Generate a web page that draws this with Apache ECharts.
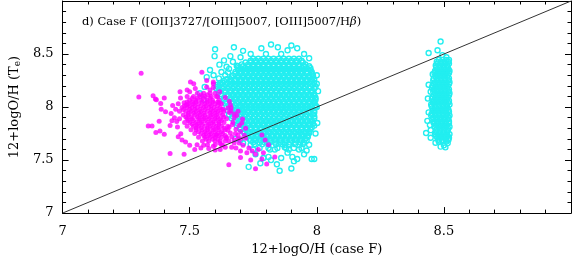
<!DOCTYPE html>
<html><head><meta charset="utf-8">
<script src="https://cdn.jsdelivr.net/npm/echarts@6/dist/echarts.min.js"></script>
<style>html,body{margin:0;padding:0;background:#fff}#c{width:574px;height:261px}</style>
</head><body><div id="c"></div>
<script>
const xTickLabels = ['7','7.5','8','8.5'];
const yTickLabels = ['7','7.5','8','8.5'];
const oneToOne = [[7,7],[9,9]];

// magenta (filled) — outer points
const magentaOuter = [
[7.309,8.318],[7.30,8.094],[7.356,8.106],[7.365,8.076],[7.386,8.034],[7.40,8.085],[7.388,7.979],[7.405,7.955],
[7.427,7.94],[7.38,7.866],[7.337,7.821],[7.352,7.822],[7.367,7.76],[7.383,7.773],[7.40,7.743],[7.423,7.827],
[7.449,7.864],[7.452,7.812],[7.465,7.748],[7.484,7.67],[7.423,7.561],[7.478,7.555],[7.529,7.645],[7.544,7.615],
[7.503,8.236],[7.548,8.327],[7.462,8.145],[7.49,8.16],[7.522,8.176],[7.567,8.19],[7.593,8.22],[7.433,8.015],
[7.478,8.04],[7.464,8.085],[7.50,8.145],[7.516,8.22],[7.567,8.25],[7.593,8.185],[7.487,8.02],[7.369,8.07],
[7.654,7.457],[7.759,7.418],[7.803,7.464],[7.835,7.53],[7.784,7.51],[7.759,7.555],[7.746,7.585],[7.733,7.615],
[7.70,7.585],[7.70,7.525],[7.682,7.615],[7.72,7.706],[7.797,7.69],[7.81,7.645],[7.784,7.736],[7.708,7.888],
[7.695,7.827],[7.65,7.782],[7.644,7.706],[7.618,7.66],[7.593,7.63],[7.605,7.736],[7.656,7.948],[7.663,7.994],
[7.631,7.979],[7.593,8.236],[7.58,8.16],[7.618,8.145],[7.605,8.10],[7.656,8.055],[7.617,8.04],[7.65,7.99],
[7.675,7.66],[7.69,7.70],[7.665,7.72],[7.71,7.64],[7.725,7.57],[7.74,7.50],[7.77,7.60],[7.79,7.57],
[7.68,7.75],[7.70,7.77],[7.72,7.80],[7.67,7.86],[7.685,7.92],[7.66,8.02],[7.64,8.09],
[7.44,7.90],[7.445,7.98],[7.43,7.87],[7.455,7.72],[7.47,7.69],[7.50,7.64],[7.52,7.60],
[7.662,7.965],[7.675,7.90],[7.668,7.835],[7.682,7.79],[7.66,7.755],[7.676,7.69],[7.69,7.735],[7.655,7.68],
[7.695,7.66],[7.665,7.62],[7.64,7.62],[7.62,7.60],[7.705,7.85],[7.69,7.96],[7.70,7.70],[7.655,7.81],
[7.575,7.61],[7.60,7.595],[7.555,7.64],[7.675,7.935],[7.63,7.64],[7.715,7.735]
];
// magenta dense core, rows: [y, x, x, ...]
const magentaRows = [
[8.13,7.53,7.555,7.58,7.60],
[8.115,7.545,7.57],
[8.10,7.49,7.515,7.54,7.56,7.585,7.61],
[8.082,7.51,7.53,7.555,7.58],
[8.065,7.50,7.525,7.545,7.57,7.59,7.615],
[8.047,7.49,7.51,7.525,7.55,7.57,7.59,7.61],
[8.03,7.455,7.495,7.515,7.535,7.56,7.58,7.60,7.625],
[8.012,7.48,7.50,7.52,7.545,7.565,7.585,7.61],
[7.995,7.47,7.49,7.51,7.53,7.555,7.575,7.595,7.62],
[7.977,7.475,7.50,7.52,7.54,7.56,7.585,7.605,7.625],
[7.96,7.46,7.485,7.505,7.525,7.545,7.57,7.59,7.61,7.635],
[7.942,7.495,7.515,7.535,7.555,7.58,7.60,7.62],
[7.925,7.475,7.495,7.52,7.54,7.56,7.585,7.605,7.63],
[7.907,7.485,7.505,7.53,7.55,7.57,7.59,7.61,7.635],
[7.89,7.46,7.49,7.51,7.535,7.555,7.575,7.60,7.62,7.645],
[7.872,7.495,7.515,7.54,7.56,7.585,7.605,7.625],
[7.855,7.48,7.50,7.525,7.545,7.57,7.59,7.615,7.635],
[7.837,7.51,7.53,7.55,7.575,7.595,7.615],
[7.82,7.49,7.515,7.535,7.56,7.58,7.605,7.625,7.65],
[7.802,7.525,7.545,7.57,7.59,7.61,7.635],
[7.785,7.505,7.525,7.55,7.57,7.595,7.615,7.64],
[7.767,7.535,7.56,7.58,7.60,7.625],
[7.75,7.52,7.545,7.565,7.585,7.61,7.63],
[7.732,7.555,7.575,7.595,7.615,7.64],
[7.715,7.535,7.56,7.58,7.60,7.625,7.645],
[7.697,7.565,7.59,7.61],
[7.68,7.55,7.575,7.60,7.62,7.64],
[7.645,7.57,7.60,7.625]
];
// cyan (open) main cluster core rows: [y, x, x, ...]
const cyanRows = [
[8.455,7.75,7.77,7.79,7.81,7.83,7.85,7.87,7.89,7.91,7.93],
[8.437,7.74,7.76,7.78,7.80,7.82,7.84,7.86,7.88,7.90,7.92,7.94],
[8.42,7.72,7.74,7.76,7.78,7.80,7.82,7.84,7.86,7.88,7.90,7.92,7.945],
[8.402,7.705,7.73,7.75,7.77,7.79,7.81,7.83,7.85,7.87,7.89,7.91,7.93,7.955],
[8.385,7.69,7.71,7.73,7.75,7.77,7.79,7.81,7.83,7.85,7.87,7.89,7.91,7.93,7.95,7.97],
[8.367,7.69,7.70,7.72,7.74,7.76,7.78,7.80,7.82,7.84,7.86,7.88,7.90,7.92,7.94,7.96,7.975],
[8.35,7.69,7.71,7.73,7.75,7.77,7.79,7.81,7.83,7.85,7.87,7.89,7.91,7.93,7.95,7.975],
[8.332,7.68,7.70,7.72,7.74,7.76,7.78,7.80,7.82,7.84,7.86,7.88,7.90,7.92,7.94,7.96,7.98],
[8.315,7.68,7.70,7.72,7.74,7.76,7.78,7.80,7.82,7.84,7.86,7.88,7.90,7.92,7.94,7.96,7.98],
[8.297,7.67,7.69,7.71,7.73,7.75,7.77,7.79,7.81,7.83,7.85,7.87,7.89,7.91,7.93,7.95,7.97,7.985],
[8.28,7.665,7.69,7.71,7.73,7.75,7.77,7.79,7.81,7.83,7.85,7.87,7.89,7.91,7.93,7.95,7.97,7.985],
[8.262,7.645,7.66,7.68,7.70,7.72,7.74,7.76,7.78,7.80,7.82,7.84,7.86,7.88,7.90,7.92,7.94,7.96,7.98,7.99],
[8.245,7.635,7.66,7.68,7.70,7.72,7.74,7.76,7.78,7.80,7.82,7.84,7.86,7.88,7.90,7.92,7.94,7.96,7.98],
[8.227,7.62,7.63,7.65,7.67,7.69,7.71,7.73,7.75,7.77,7.79,7.81,7.83,7.85,7.87,7.89,7.91,7.93,7.95,7.97,7.99],
[8.21,7.61,7.62,7.64,7.66,7.68,7.70,7.72,7.74,7.76,7.78,7.80,7.82,7.84,7.86,7.88,7.90,7.92,7.94,7.96,7.985],
[8.192,7.61,7.635,7.655,7.675,7.695,7.715,7.735,7.755,7.775,7.795,7.815,7.835,7.855,7.875,7.895,7.915,7.935,7.955,7.975,7.995],
[8.175,7.605,7.63,7.65,7.67,7.69,7.71,7.73,7.75,7.77,7.79,7.81,7.83,7.85,7.87,7.89,7.91,7.93,7.95,7.97,7.99],
[8.157,7.615,7.64,7.66,7.68,7.70,7.72,7.74,7.76,7.78,7.80,7.82,7.84,7.86,7.88,7.90,7.92,7.94,7.96,7.98],
[8.14,7.615,7.64,7.66,7.68,7.70,7.72,7.74,7.76,7.78,7.80,7.82,7.84,7.86,7.88,7.90,7.92,7.94,7.96,7.98],
[8.122,7.625,7.65,7.67,7.69,7.71,7.73,7.75,7.77,7.79,7.81,7.83,7.85,7.87,7.89,7.91,7.93,7.95,7.97,7.99],
[8.105,7.625,7.65,7.67,7.69,7.71,7.73,7.75,7.77,7.79,7.81,7.83,7.85,7.87,7.89,7.91,7.93,7.95,7.97,7.99],
[8.087,7.635,7.66,7.68,7.70,7.72,7.74,7.76,7.78,7.80,7.82,7.84,7.86,7.88,7.90,7.92,7.94,7.96,7.98,7.995],
[8.07,7.635,7.66,7.68,7.70,7.72,7.74,7.76,7.78,7.80,7.82,7.84,7.86,7.88,7.90,7.92,7.94,7.96,7.98,7.995],
[8.052,7.645,7.67,7.69,7.71,7.73,7.75,7.77,7.79,7.81,7.83,7.85,7.87,7.89,7.91,7.93,7.95,7.97,7.99],
[8.035,7.64,7.665,7.685,7.71,7.73,7.75,7.77,7.79,7.81,7.83,7.85,7.87,7.89,7.91,7.93,7.95,7.97,7.99],
[8.017,7.655,7.68,7.70,7.72,7.74,7.76,7.78,7.80,7.82,7.84,7.86,7.88,7.90,7.92,7.94,7.96,7.98,7.995],
[8.00,7.645,7.67,7.69,7.70,7.72,7.74,7.76,7.78,7.80,7.82,7.84,7.86,7.88,7.90,7.92,7.94,7.96,7.98,7.995],
[7.982,7.66,7.685,7.705,7.72,7.74,7.76,7.78,7.80,7.82,7.84,7.86,7.88,7.90,7.92,7.94,7.96,7.98],
[7.965,7.65,7.675,7.695,7.71,7.73,7.75,7.77,7.79,7.81,7.83,7.85,7.87,7.89,7.91,7.93,7.95,7.97,7.99],
[7.947,7.665,7.69,7.71,7.73,7.75,7.77,7.79,7.81,7.83,7.85,7.87,7.89,7.91,7.93,7.95,7.97,7.99],
[7.93,7.655,7.68,7.70,7.72,7.74,7.76,7.78,7.80,7.82,7.84,7.86,7.88,7.90,7.92,7.94,7.96,7.985],
[7.912,7.67,7.695,7.715,7.735,7.755,7.775,7.795,7.815,7.835,7.855,7.875,7.895,7.915,7.935,7.955,7.975,7.99],
[7.895,7.665,7.69,7.71,7.73,7.75,7.77,7.79,7.81,7.83,7.85,7.87,7.89,7.91,7.93,7.95,7.97,7.99],
[7.877,7.68,7.70,7.72,7.74,7.76,7.78,7.80,7.82,7.84,7.86,7.88,7.90,7.92,7.94,7.96,7.98],
[7.86,7.675,7.70,7.72,7.74,7.76,7.78,7.80,7.82,7.84,7.86,7.88,7.90,7.92,7.94,7.96,7.98],
[7.842,7.69,7.71,7.73,7.75,7.77,7.79,7.81,7.83,7.85,7.87,7.89,7.91,7.93,7.95,7.97,7.985],
[7.825,7.685,7.71,7.73,7.75,7.77,7.79,7.81,7.83,7.85,7.87,7.89,7.91,7.93,7.95,7.97,7.99],
[7.807,7.70,7.72,7.74,7.76,7.78,7.80,7.82,7.84,7.86,7.88,7.90,7.92,7.94,7.96,7.98],
[7.79,7.70,7.72,7.74,7.76,7.78,7.80,7.82,7.84,7.86,7.88,7.90,7.92,7.94,7.96,7.975],
[7.772,7.71,7.73,7.75,7.77,7.79,7.81,7.83,7.85,7.87,7.89,7.91,7.93,7.95,7.97],
[7.755,7.715,7.735,7.755,7.775,7.795,7.815,7.835,7.855,7.875,7.895,7.915,7.935,7.955,7.97],
[7.737,7.725,7.745,7.765,7.785,7.805,7.825,7.845,7.865,7.885,7.905,7.925,7.945,7.965],
[7.72,7.725,7.745,7.765,7.785,7.805,7.825,7.845,7.865,7.885,7.905,7.925,7.945,7.965],
[7.702,7.735,7.755,7.775,7.795,7.815,7.835,7.855,7.875,7.895,7.915,7.935,7.955],
[7.685,7.74,7.76,7.78,7.80,7.82,7.84,7.86,7.88,7.90,7.92,7.94,7.96],
[7.667,7.75,7.775,7.795,7.815,7.835,7.855,7.875,7.895,7.915,7.935,7.95],
[7.65,7.755,7.785,7.81,7.84,7.865,7.89,7.915,7.945],
[7.615,7.775,7.81,7.845,7.88,7.91,7.94]
];
// cyan main cluster sparse outer points
const cyanOuter = [
[7.60,8.545],[7.674,8.564],[7.71,8.53],[7.74,8.50],[7.782,8.555],[7.82,8.59],[7.847,8.564],[7.885,8.536],
[7.923,8.555],[7.90,8.58],[7.95,8.50],[7.97,8.46],[7.66,8.48],[7.70,8.47],[7.635,8.44],[7.80,8.50],[7.86,8.50],
[7.567,8.282],[7.594,8.30],[7.617,8.40],[7.651,8.327],[7.670,8.427],[7.598,8.48],[7.559,8.19],[7.58,8.35],
[7.625,8.33],[7.645,8.38],[7.685,8.39],[7.54,8.13],[7.555,8.07],[7.64,8.30],[7.615,8.27],[7.655,8.36],
[8.00,8.30],[8.005,8.15],[8.00,8.00],[8.002,7.85],[7.995,7.75],[8.0,8.22],
[7.732,7.436],[7.778,7.47],[7.843,7.46],[7.854,7.40],[7.874,7.62],[7.95,7.555],[7.759,7.555],[7.816,7.60],
[7.74,7.645],[7.70,7.69],[7.81,7.53],[7.835,7.60],[7.885,7.57],[7.90,7.42],[7.91,7.49],[7.874,7.645],
[7.923,7.51],[7.904,7.53],[7.97,7.645],[7.98,7.51],[7.99,7.51],[7.94,7.74],[7.89,7.60],[7.86,7.52],
[7.93,7.60],[7.82,7.50],[7.79,7.52],[7.96,7.59],[7.75,7.60],[7.68,7.70],[7.71,7.66]
];
// cyan column near 8.5, rows: [y, x, x, ...]
const columnRows = [
[8.445,8.48,8.495,8.51,8.52],
[8.428,8.472,8.488,8.503,8.517],
[8.41,8.475,8.49,8.505,8.52],
[8.392,8.468,8.483,8.498,8.513],
[8.375,8.47,8.485,8.50,8.515],
[8.357,8.472,8.488,8.503,8.518],
[8.34,8.465,8.48,8.495,8.51,8.522],
[8.322,8.463,8.478,8.493,8.508,8.52],
[8.305,8.47,8.485,8.50,8.515],
[8.287,8.468,8.483,8.498,8.513],
[8.27,8.46,8.475,8.49,8.505,8.52],
[8.252,8.458,8.473,8.488,8.503,8.518],
[8.235,8.465,8.48,8.495,8.51,8.522],
[8.217,8.462,8.477,8.492,8.507,8.52],
[8.20,8.455,8.47,8.485,8.50,8.515],
[8.182,8.453,8.468,8.483,8.498,8.513],
[8.165,8.46,8.475,8.49,8.505,8.52],
[8.147,8.458,8.473,8.488,8.503,8.518],
[8.13,8.465,8.48,8.495,8.51,8.522],
[8.112,8.462,8.477,8.492,8.507,8.52],
[8.095,8.455,8.47,8.485,8.50,8.515],
[8.077,8.453,8.468,8.483,8.498,8.513],
[8.06,8.46,8.475,8.49,8.505,8.52],
[8.042,8.457,8.472,8.487,8.502,8.517],
[8.025,8.45,8.465,8.48,8.495,8.51,8.522],
[8.007,8.452,8.467,8.482,8.497,8.512],
[7.99,8.455,8.47,8.485,8.50,8.515],
[7.972,8.458,8.473,8.488,8.503,8.518],
[7.955,8.46,8.475,8.49,8.505,8.52],
[7.937,8.452,8.467,8.482,8.497,8.512],
[7.92,8.45,8.465,8.48,8.495,8.51,8.522],
[7.902,8.458,8.473,8.488,8.503,8.518],
[7.885,8.455,8.47,8.485,8.50,8.515],
[7.867,8.462,8.477,8.492,8.507,8.52],
[7.85,8.46,8.475,8.49,8.505,8.52],
[7.832,8.468,8.483,8.498,8.513],
[7.815,8.465,8.48,8.495,8.51,8.522],
[7.797,8.472,8.487,8.502,8.517],
[7.78,8.47,8.485,8.50,8.515],
[7.762,8.468,8.483,8.498,8.513],
[7.745,8.465,8.48,8.495,8.51,8.522],
[7.727,8.47,8.485,8.50,8.515],
[7.71,8.475,8.49,8.505,8.52],
[7.692,8.478,8.493,8.508,8.518],
[7.675,8.48,8.495,8.51]
];
const columnOuter = [
[8.487,8.618],[8.44,8.51],[8.475,8.536],[8.494,8.49],[8.456,8.31],[8.44,8.21],[8.448,8.145],[8.437,8.08],
[8.43,7.755],[8.448,7.71],[8.487,7.627],[8.506,7.62],[8.448,7.782],[8.467,7.664],[8.44,7.95],[8.435,7.87],
[8.445,7.83],[8.51,8.47],[8.50,7.64],[8.515,7.66]
];

function fromRows(rows){const out=[];rows.forEach(r=>{for(let i=1;i<r.length;i++)out.push([r[i],r[0]]);});return out;}
const cyanData = fromRows(cyanRows).concat(cyanOuter, fromRows(columnRows), columnOuter);
const magentaData = fromRows(magentaRows).concat(magentaOuter);

const FONT = 'DejaVu Serif';
function axisCommon(labels, show, margin){
  return {
    type:'value', min:7, max:9, interval:0.5,
    axisLine:{show:true,onZero:false,lineStyle:{color:'#000',width:1}},
    axisTick:{show:true,inside:true,length:6,lineStyle:{color:'#000',width:1}},
    minorTick:{show:true,splitNumber:5,length:3.5,lineStyle:{color:'#000',width:1}},
    splitLine:{show:false},
    axisLabel:{show:show,margin:margin,fontFamily:FONT,fontSize:13,color:'#000',
      formatter:v=>{const s=String(+v.toFixed(2));return labels.includes(s)?s:'';}}
  };
}
const chart = echarts.init(document.getElementById('c'),null,{renderer:'canvas'});
chart.setOption({
  animation:false,
  backgroundColor:'#fff',
  title:{left:77,top:11,
    text:'{t|d) Case F ([OII]3727/[OIII]5007, [OIII]5007/H}{g|β}{t|)}',
    textStyle:{fontWeight:'normal',rich:{t:{fontFamily:FONT,fontSize:11.5,fontWeight:'normal',color:'#000'},g:{fontFamily:FONT,fontSize:11.5,fontWeight:'normal',fontStyle:'italic',color:'#000'}}}},
  grid:{left:52,right:1,top:1,bottom:40,containLabel:false},
  xAxis:[
    Object.assign(axisCommon(xTickLabels,true,12),{position:'bottom',
      name:'12+logO/H (case F)',nameLocation:'middle',nameGap:29,
      nameTextStyle:{fontFamily:FONT,fontSize:13,color:'#000'}}),
    Object.assign(axisCommon(xTickLabels,false,8),{position:'top'})
  ],
  yAxis:[
    Object.assign(axisCommon(yTickLabels,true,9),{position:'left',
      name:'{a|12+logO/H (T}{s|e}{a|)}',nameLocation:'middle',nameGap:33,nameRotate:90,
      nameTextStyle:{rich:{a:{fontFamily:FONT,fontSize:13,color:'#000'},s:{fontFamily:FONT,fontSize:9,color:'#000',padding:[6,0,0,0]}}}}),
    Object.assign(axisCommon(yTickLabels,false,8),{position:'right'})
  ],
  series:[
    {type:'scatter',data:cyanData,symbol:'circle',symbolSize:5,silent:true,large:false,
     itemStyle:{color:'rgba(0,0,0,0)',borderColor:'#22eef0',borderWidth:1.4,opacity:1}},
    {type:'scatter',data:magentaData,symbol:'circle',symbolSize:5,silent:true,large:false,
     itemStyle:{color:'#ff00ff',borderWidth:0}},
    {type:'line',data:oneToOne,symbol:'none',silent:true,
     lineStyle:{color:'#333',width:1},z:5}
  ]
});
</script></body></html>
